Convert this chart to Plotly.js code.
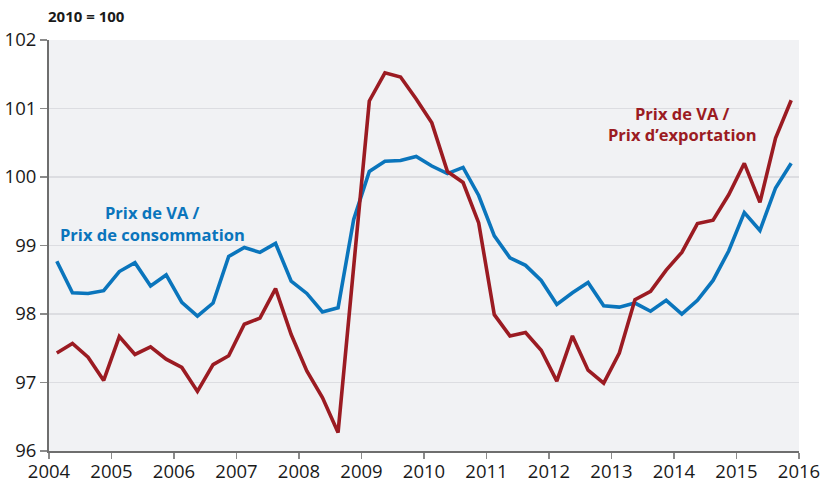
<!DOCTYPE html>
<html>
<head>
<meta charset="utf-8">
<script src="https://cdn.plot.ly/plotly-3.0.1.min.js"></script>
<style>html,body{margin:0;padding:0;background:#fff;}#chart{width:833px;height:484px;}</style>
</head>
<body>
<div id="chart"></div>
<script>
// Quarterly periods 2004 Q1 – 2015 Q4
const years = [2004,2005,2006,2007,2008,2009,2010,2011,2012,2013,2014,2015];
const quarters = [1,2,3,4];

// Prix de VA / Prix de consommation (2010 = 100)
const vaConso = [
  98.77, 98.31, 98.30, 98.34,
  98.62, 98.75, 98.41, 98.57,
  98.17, 97.97, 98.16, 98.84,
  98.97, 98.90, 99.03, 98.48,
  98.30, 98.03, 98.09, 99.38,
  100.08, 100.23, 100.24, 100.30,
  100.16, 100.05, 100.14, 99.73,
  99.14, 98.82, 98.71, 98.49,
  98.14, 98.31, 98.46, 98.12,
  98.10, 98.16, 98.04, 98.20,
  98.00, 98.20, 98.49, 98.92,
  99.48, 99.22, 99.84, 100.20
];

// Prix de VA / Prix d'exportation (2010 = 100)
const vaExport = [
  97.43, 97.57, 97.37, 97.03,
  97.67, 97.41, 97.52, 97.34,
  97.22, 96.87, 97.26, 97.39,
  97.85, 97.94, 98.37, 97.70,
  97.17, 96.78, 96.27, 98.63,
  101.11, 101.52, 101.46, 101.14,
  100.79, 100.08, 99.92, 99.33,
  97.99, 97.68, 97.73, 97.47,
  97.02, 97.68, 97.18, 96.99,
  97.43, 98.21, 98.33, 98.64,
  98.90, 99.32, 99.37, 99.74,
  100.20, 99.63, 100.57, 101.12
];

const xTicks = [2004,2005,2006,2007,2008,2009,2010,2011,2012,2013,2014,2015,2016];
const yTicks = [96,97,98,99,100,101,102];

const labelConso = ['Prix de VA /', 'Prix de consommation'];
const labelExport = ['Prix de VA /', 'Prix d\u2019exportation'];

// quarter midpoints on a continuous year axis
const xs = [];
years.forEach(y => quarters.forEach(q => xs.push(y + (q - 0.5) / 4)));

const BLUE = '#0a75bc';
const RED = '#9b1b22';
const FONT = 'Open Sans, Noto Sans, sans-serif';

const traces = [
  {x: xs, y: vaConso, type: 'scatter', mode: 'lines',
   line: {color: BLUE, width: 3.6, shape: 'linear'}, hoverinfo: 'skip'},
  {x: xs, y: vaExport, type: 'scatter', mode: 'lines',
   line: {color: RED, width: 3.6, shape: 'linear'}, hoverinfo: 'skip'}
];

function labelLines(lines, x, yTop, step, color) {
  return lines.map((t, i) => ({
    xref: 'x', yref: 'y', x: x, y: yTop - i * step, xanchor: 'center', yanchor: 'middle',
    borderpad: 0,
    text: '<b>' + t + '</b>', showarrow: false, font: {family: FONT, size: 16.5, color: color}
  }));
}

const layout = {
  width: 833, height: 484,
  margin: {l: 49, r: 34, t: 40, b: 33, pad: 0},
  paper_bgcolor: '#ffffff',
  plot_bgcolor: '#f1f2f4',
  showlegend: false,
  font: {family: FONT, color: '#1a1a1a'},
  xaxis: {
    range: [2004, 2016], tickvals: xTicks, ticktext: xTicks.map(String),
    showgrid: false, zeroline: false,
    showline: true, linecolor: '#6e6e6e', linewidth: 2,
    ticks: 'outside', ticklen: 6, tickwidth: 1.5, tickcolor: '#8a8a8a',
    ticklabelstandoff: -3,
    tickfont: {family: FONT, size: 18.5, color: '#1a1a1a'}
  },
  yaxis: {
    range: [96, 102], tickvals: yTicks, ticktext: yTicks.map(String),
    showgrid: true, gridcolor: '#dcdde1', gridwidth: 1.2, zeroline: false,
    showline: true, linecolor: '#6e6e6e', linewidth: 2,
    ticks: 'outside', ticklen: 7, tickwidth: 1.5, tickcolor: '#8a8a8a',
    tickfont: {family: FONT, size: 18.5, color: '#1a1a1a'}
  },
  annotations: [
    {xref: 'paper', yref: 'paper', x: -0.004, y: 1.0, yshift: 24, xanchor: 'left', yanchor: 'middle',
     text: '<b>2010 = 100</b>', showarrow: false, font: {family: FONT, size: 15, color: '#1a1a1a'}}
  ].concat(
    labelLines(labelConso, 2005.655, 99.48, 0.325, BLUE),
    labelLines(labelExport, 2014.13, 100.93, 0.315, RED)
  )
};

Plotly.newPlot('chart', traces, layout, {staticPlot: true, displayModeBar: false});
</script>
</body>
</html>
